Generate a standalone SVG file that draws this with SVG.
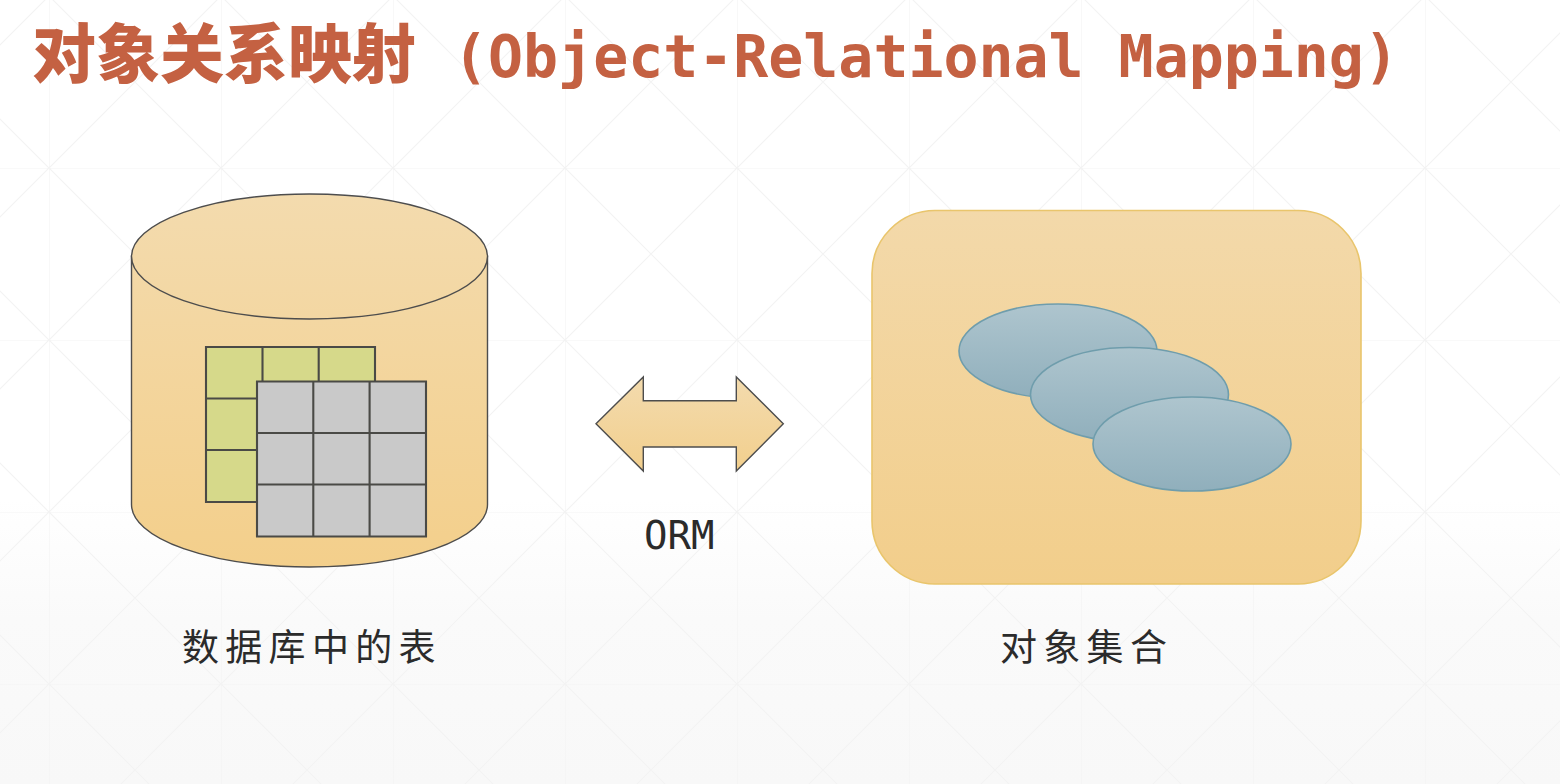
<svg xmlns="http://www.w3.org/2000/svg" width="1560" height="784" viewBox="0 0 1560 784">
<style>
.title{fill:#c46142}
.lab{fill:#2b2b2b;font-family:"Noto Sans CJK SC","Noto Sans CJK TC",sans-serif;font-size:37px;letter-spacing:6.3px}
.tb{stroke:#4a4a46;stroke-width:2.1;fill:none}
.sand{fill:url(#sandU);stroke:#4d4d4d;stroke-width:1.4}
.oval{fill:url(#blue);stroke:#6f9dac;stroke-width:1.6}
</style>
<defs>
<linearGradient id="sandU" gradientUnits="userSpaceOnUse" x1="0" y1="194" x2="0" y2="567"><stop offset="0" stop-color="#f3dbae"/><stop offset="1" stop-color="#f3cf8b"/></linearGradient>
<linearGradient id="arrow" gradientUnits="userSpaceOnUse" x1="0" y1="377" x2="0" y2="471"><stop offset="0" stop-color="#f3dbae"/><stop offset="1" stop-color="#f2cf8d"/></linearGradient>
<linearGradient id="sand" x1="0" y1="0" x2="0" y2="1"><stop offset="0" stop-color="#f3d9aa"/><stop offset="1" stop-color="#f2ce8b"/></linearGradient>
<linearGradient id="blue" x1="0" y1="0" x2="0" y2="1"><stop offset="0" stop-color="#aec5ce"/><stop offset="1" stop-color="#90afbc"/></linearGradient>
<linearGradient id="fade" gradientUnits="userSpaceOnUse" x1="0" y1="500" x2="0" y2="784"><stop offset="0" stop-color="#ffffff"/><stop offset="0.42" stop-color="#fafafa"/><stop offset="1" stop-color="#f8f8f8"/></linearGradient>
<pattern id="grid" patternUnits="userSpaceOnUse" x="49" y="168" width="172" height="172">
<path d="M0 0H172M0 0V172M0 0L172 172M172 0L0 172" fill="none" stroke="#f3f3f3" stroke-width="1.2"/>
</pattern>
</defs>
<g id="background">
<rect width="1560" height="784" fill="#fff"/>
<rect y="500" width="1560" height="284" fill="url(#fade)"/>
<rect width="1560" height="784" fill="url(#grid)"/>
</g>
<g id="title">
<text class="title" x="32" y="77" font-size="64" font-weight="900" font-family="'Noto Sans CJK SC','Noto Sans CJK TC',sans-serif">对象关系映射</text>
<text class="title" x="453" y="77" font-size="58.200" font-weight="700" font-family="'DejaVu Sans Mono','Liberation Mono',monospace">(Object-Relational Mapping)</text>
</g>
<g id="database">
<path class="sand" d="M131.500 256.500V504.500A178 62.500 0 0 0 487.500 504.500V256.500Z"/>
<ellipse class="sand" cx="309.500" cy="256.500" rx="178" ry="62.500"/>
</g>
<g id="table-back">
<rect x="206" y="347" width="169" height="155" fill="#d6d98a"/>
<path class="tb" d="M206 347H375V502H206ZM262.500 347V502M318.700 347V502M206 398.500H375M206 450H375"/>
</g>
<g id="table-front">
<rect x="257" y="381.500" width="169" height="155" fill="#c9c9c9"/>
<path class="tb" d="M257 381.500H426V536.500H257ZM313.300 381.500V536.500M369.600 381.500V536.500M257 433H426M257 484.500H426"/>
</g>
<g id="objects">
<rect x="872" y="210.500" width="489" height="373.500" rx="63" fill="url(#sand)" stroke="#e9c56c" stroke-width="1.6"/>
</g>
<g id="object-1"><ellipse class="oval" cx="1058" cy="351" rx="99" ry="47"/></g>
<g id="object-2"><ellipse class="oval" cx="1129.500" cy="394.500" rx="99" ry="47"/></g>
<g id="object-3"><ellipse class="oval" cx="1192" cy="444" rx="99" ry="47"/></g>
<g id="connectors">
<polygon fill="url(#arrow)" stroke="#4d4d4d" stroke-width="1.4" points="596,423.800 643.300,377 643.300,400.700 736.300,400.700 736.300,377 783.300,423.800 736.300,471 736.300,447 643.300,447 643.300,471"/>
</g>
<g id="labels">
<text x="644" y="549" font-size="39" font-family="'DejaVu Sans Mono','Liberation Mono',monospace" fill="#2b2b2b">ORM</text>
<text class="lab" x="182" y="661">数据库中的表</text>
<text class="lab" x="1000" y="661">对象集合</text>
</g>
</svg>
